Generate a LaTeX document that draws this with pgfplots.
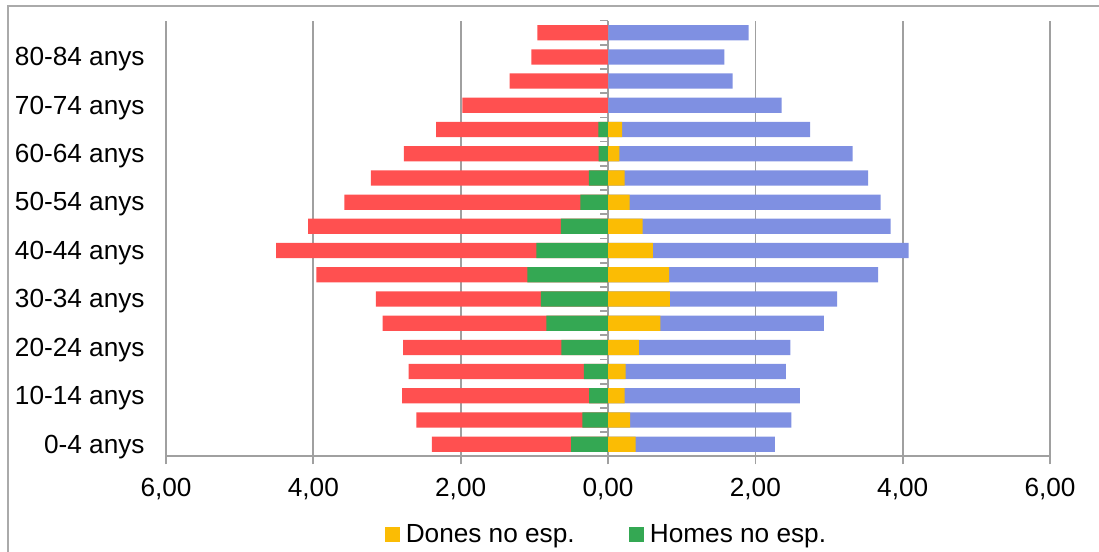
\documentclass[border=0pt]{standalone}
\usepackage{fontspec}
\setmainfont{Liberation Sans}
\usepackage{pgfplots}
\pgfplotsset{compat=1.18}
\usepackage{pgfplotstable}
\definecolor{cred}{RGB}{255,80,80}
\definecolor{cgreen}{RGB}{52,168,83}
\definecolor{cyellow}{RGB}{251,188,4}
\definecolor{cblue}{RGB}{127,144,226}
\definecolor{cgrid}{RGB}{160,160,160}
\definecolor{cframe}{RGB}{170,170,170}

% idx: 0 = 0-4 anys ... 17 = 85+ anys
\pgfplotstableread{
idx homes homesno dones donesno
0  -2.390 -0.500 2.265 0.376
1  -2.600 -0.349 2.490 0.300
2  -2.795 -0.258 2.605 0.227
3  -2.705 -0.326 2.415 0.240
4  -2.780 -0.634 2.475 0.420
5  -3.060 -0.837 2.930 0.710
6  -3.150 -0.910 3.110 0.840
7  -3.960 -1.095 3.665 0.830
8  -4.505 -0.973 4.080 0.610
9  -4.070 -0.640 3.835 0.470
10 -3.580 -0.376 3.700 0.295
11 -3.220 -0.260 3.530 0.227
12 -2.770 -0.127 3.320 0.155
13 -2.334 -0.130 2.745 0.190
14 -1.977 0 2.355 0
15 -1.335 0 1.690 0
16 -1.040 0 1.580 0
17 -0.960 0 1.910 0
}\datatable

\begin{document}
\begin{tikzpicture}
\useasboundingbox (0,0) rectangle (549.5bp,-276bp);
\draw[cframe, line width=0.8bp] (560bp,-3bp) -- (4bp,-3bp) -- (4bp,-290bp);
\begin{axis}[
  at={(83bp,-228.15bp)}, anchor=south west,
  scale only axis,
  width=442bp, height=217.85bp,
  xmin=-6, xmax=6,
  ymin=-0.5, ymax=17.5,
  xbar, bar shift=0pt, bar width=0.63,
  axis x line*=bottom, axis y line*=left,
  axis line style={cgrid, line width=0.85bp},
  xmajorgrids, grid style={cgrid, line width=0.85bp},
  xtick={-6,-4,-2,0,2,4,6},
  xticklabels={{6,00},{4,00},{2,00},{0,00},{2,00},{4,00},{6,00}},
  ytick={0,2,4,6,8,10,12,14,16},
  yticklabels={0-4 anys,10-14 anys,20-24 anys,30-34 anys,40-44 anys,50-54 anys,60-64 anys,70-74 anys,80-84 anys},
  tick align=outside,
  x tick style={cgrid, line width=0.85bp},
  major tick length=4bp,
  y tick style={draw=none},
  tick label style={font=\fontsize{13.1bp}{15bp}\selectfont, inner sep=0pt},
  xticklabel style={anchor=north, yshift=-6.8bp},
  yticklabel style={anchor=east, xshift=-6.5bp, yshift=-1.2bp},
  legend columns=2,
  legend style={draw=none, fill=none, at={(axis description cs:0.497,-0.18)}, anchor=center,
    font=\fontsize{13.1bp}{15bp}\selectfont,
    nodes={inner sep=0pt},
    /tikz/every odd column/.append style={column sep=3bp},
    /tikz/every even column/.append style={column sep=27bp}},
  legend image code/.code={\fill[#1, draw=none] (0bp,-3.8bp) rectangle (7.6bp,3.8bp);},
]
\addplot[fill=cred, draw=none, forget plot] table[x=homes, y=idx] {\datatable};
\addplot[fill=cgreen, draw=none, forget plot] table[x=homesno, y=idx] {\datatable};
\addplot[fill=cblue, draw=none, forget plot] table[x=dones, y=idx] {\datatable};
\addplot[fill=cyellow, draw=none] table[x=donesno, y=idx] {\datatable};
\addlegendentry{Dones no esp.}
\addlegendimage{fill=cgreen, draw=none}
\addlegendentry{Homes no esp.}
\foreach \k in {-0.5,0.5,...,17.5}{
  \edef\tmp{\noexpand\draw[cgrid, line width=0.85bp] (axis cs:0,\k) -- ([xshift=-4bp]axis cs:0,\k);}
  \tmp
}
\end{axis}
\end{tikzpicture}
\end{document}
